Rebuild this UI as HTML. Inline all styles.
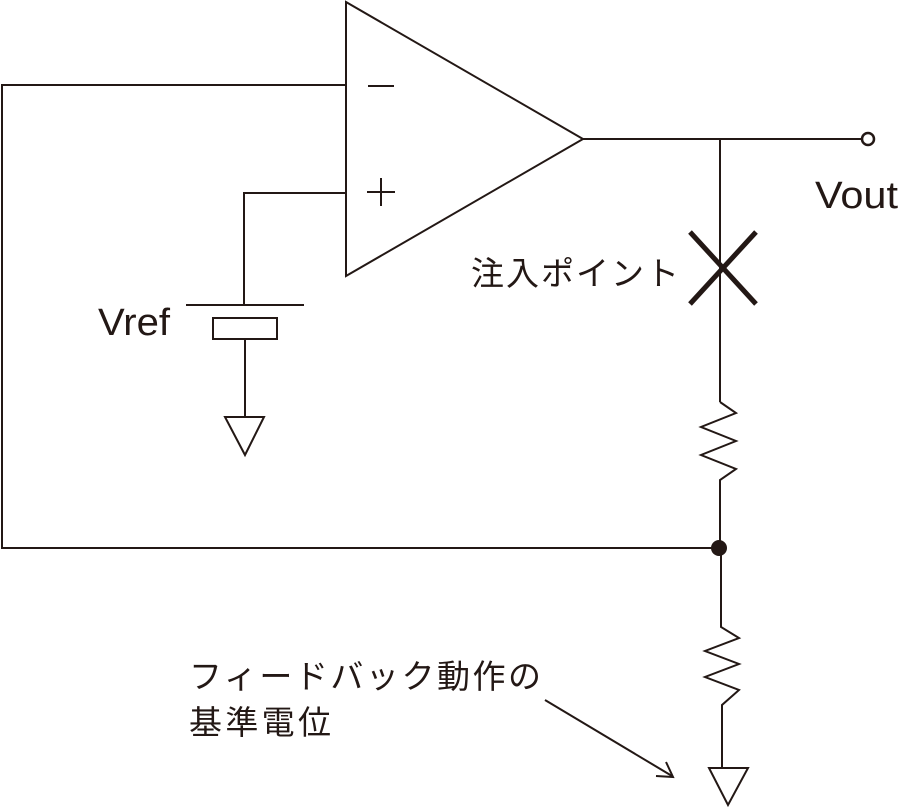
<!DOCTYPE html>
<html><head><meta charset="utf-8"><style>
html,body{margin:0;padding:0;background:#fff;}
svg{display:block;}
text{font-family:"Liberation Sans","Noto Sans CJK JP",sans-serif;fill:#231815;}
</style></head><body>
<svg width="900" height="810" viewBox="0 0 900 810" xmlns="http://www.w3.org/2000/svg">
<g stroke="#231815" stroke-width="2" fill="none">
<polygon points="346,2 346,276 583,139"/>
<line x1="583" y1="139" x2="862" y2="139"/>
<circle cx="868" cy="139" r="6" stroke-width="2.5"/>
<line x1="720" y1="139" x2="720" y2="402"/>
<polyline points="720,402 736,413 701,427 736,441 701,455 736,469 720,480 720,548"/>
<polyline points="346,85 2,85 2,548 720,548"/>
<polyline points="721,548 721,627 739,638 705,651 739,664 705,677 739,690 722,705 722,768"/>
<polygon points="709,768 748,768 728,805"/>
<polyline points="346,193 244,193 244,305"/>
<line x1="186" y1="305" x2="304" y2="305"/>
<rect x="213" y="318" width="64" height="21"/>
<line x1="245" y1="339" x2="245" y2="417"/>
<polygon points="225,417 264,417 245,455"/>
<line x1="545" y1="700" x2="672" y2="776"/>
<polyline points="656,776 673,777 666,762"/>
<line x1="690" y1="232" x2="756" y2="304" stroke-width="5"/>
<line x1="756" y1="232" x2="690" y2="304" stroke-width="5"/>
<line x1="368" y1="86" x2="394" y2="86"/>
<line x1="367" y1="192" x2="395" y2="192"/>
<line x1="381" y1="178" x2="381" y2="206"/>
</g>
<circle cx="719" cy="548" r="8" fill="#231815"/>
<text x="98" y="335" font-size="38" textLength="72" lengthAdjust="spacingAndGlyphs">Vref</text>
<text x="815" y="208" font-size="38" textLength="83" lengthAdjust="spacingAndGlyphs">Vout</text>
<text x="471" y="285" font-size="33" textLength="208" lengthAdjust="spacing">注入ポイント</text>
<text x="189" y="688" font-size="33" textLength="352" lengthAdjust="spacing">フィードバック動作の</text>
<text x="189" y="734" font-size="33" textLength="142" lengthAdjust="spacing">基準電位</text>
</svg>
</body></html>
